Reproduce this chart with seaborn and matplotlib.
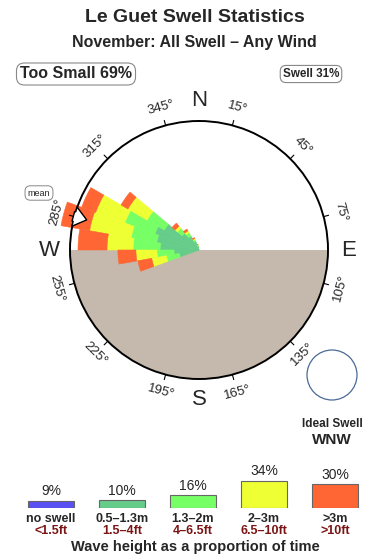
import numpy as np
import pandas as pd
import seaborn as sns
import matplotlib
matplotlib.use("Agg")
import matplotlib.pyplot as plt
from matplotlib.patches import Circle

sns.set_theme(style="white")
plt.rcParams['font.family'] = ['Liberation Sans', 'DejaVu Sans']

# ---------------- data ----------------
title = "Le Guet Swell Statistics"
subtitle = "November: All Swell \u2013 Any Wind"
too_small_pct = 69
swell_pct = 31
ideal_dir = "WNW"
mean_dir = 285

# swell direction bins (deg) and stacked band lengths (radial units, circle = 100)
directions = [255, 265, 275, 285, 295, 305, 315, 325, 335, 345]
band_05_13 = [15.5, 19.4, 30.2, 33.3, 36.4, 31.0, 17.1, 12.4, 7.0, 3.0]
band_13_2 = [10.1, 13.2, 20.9, 20.2, 24.8, 15.5, 4.7, 3.1, 1.6, 0.6]
band_2_3 = [11.6, 16.3, 20.2, 32.6, 24.0, 17.1, 2.3, 1.6, 0.8, 0.4]
band_3_up = [10.9, 14.0, 22.5, 22.5, 11.6, 6.2, 3.1, 1.6, 0.8, 0.3]

angle_labels = [15, 45, 75, 105, 135, 165, 195, 225, 255, 285, 315, 345]

legend_pct = [9, 10, 16, 34, 30]
legend_m = ["no swell", "0.5\u20131.3m", "1.3\u20132m", "2\u20133m", ">3m"]
legend_ft = ["<1.5ft", "1.5\u20134ft", "4\u20136.5ft", "6.5\u201310ft", ">10ft"]

# ---------------- styles ----------------
C_BLUE = "#5B50F2"
C_TEAL = "#66CC8A"
C_LGREEN = "#77FF66"
C_YELLOW = "#EEFF33"
C_ORANGE = "#FF6633"
LAND = "#C4B9AC"
DARKRED = "#7A1515"

W, H = 390, 560
fig = plt.figure(figsize=(W / 100, H / 100), dpi=100)


def px(x, y):
    return x / W, 1 - y / H


# titles
fig.text(*px(195, 18), title, ha="center", va="center", fontsize=14, fontweight="bold")
fig.text(*px(194, 43), subtitle, ha="center", va="center", fontsize=11.5, fontweight="bold")

box = dict(boxstyle="round,pad=0.22,rounding_size=0.5", fc="white", ec="#888888", lw=0.8)
fig.text(*px(76, 74), f"Too Small {too_small_pct}%", ha="center", va="center",
         fontsize=11.5, fontweight="bold", bbox=box)
fig.text(*px(311, 74), f"Swell {swell_pct}%", ha="center", va="center",
         fontsize=8.4, fontweight="bold", bbox=box)

# ---------------- rose ----------------
cx, cy, R = 199, 250, 129
ax = fig.add_axes([(cx - R) / W, 1 - (cy + R) / H, 2 * R / W, 2 * R / H], projection="polar")
ax.set_theta_zero_location("N")
ax.set_theta_direction(-1)
ax.set_ylim(0, 100)
ax.set_xticks([])
ax.set_yticks([])
ax.grid(False)
ax.set_facecolor("white")
ax.spines["polar"].set_linewidth(1.4)
ax.spines["polar"].set_color("black")
ax.spines["polar"].set_zorder(5)

th = np.linspace(np.pi / 2, 3 * np.pi / 2, 200)
ax.fill_between(th, 0, 100, color=LAND, lw=0, zorder=1)

rose = pd.DataFrame({"dir": directions, "b1": band_05_13, "b2": band_13_2,
                     "b3": band_2_3, "b4": band_3_up})
theta = np.deg2rad(rose["dir"].to_numpy())
bottom = np.zeros(len(rose))
for col, color in zip(["b1", "b2", "b3", "b4"], [C_TEAL, C_LGREEN, C_YELLOW, C_ORANGE]):
    vals = rose[col].to_numpy()
    ax.bar(theta, vals, width=np.deg2rad(10), bottom=bottom, color=color,
           edgecolor=color, lw=0.4, zorder=2, clip_on=False)
    bottom = bottom + vals

for b in angle_labels:
    t = np.deg2rad(b)
    rot = -b if (b < 90 or b > 270) else 180 - b
    ax.text(t, 114, f"{b}\u00b0", rotation=rot, rotation_mode="anchor",
            ha="center", va="center", fontsize=9.5, zorder=6)
    ax.plot([t, t], [100, 104], color="black", lw=0.8, clip_on=False, zorder=6)

for lab, b in zip("NESW", [0, 90, 180, 270]):
    ax.text(np.deg2rad(b), 116, lab, ha="center", va="center", fontsize=16, zorder=6)

# mean arrow
tm = np.deg2rad(mean_dir)
ax.annotate("", xy=(tm, 88), xytext=(tm, 103), xycoords="data", textcoords="data",
            arrowprops=dict(arrowstyle="simple,head_length=0.7,head_width=1.1,tail_width=0.55",
                            fc="white", ec="black", lw=1.0, mutation_scale=13),
            zorder=7, annotation_clip=False)
fig.text(*px(39, 193), "mean", ha="center", va="center", fontsize=6.5,
         bbox=dict(boxstyle="round,pad=0.3,rounding_size=0.6", fc="white", ec="#888888", lw=0.7))

# ideal swell
fig.add_artist(Circle((3.32, (H - 375) / 100), 0.25, transform=fig.dpi_scale_trans,
                      fc="white", ec="#4A6A96", lw=0.9))
fig.text(*px(332, 424), "Ideal Swell", ha="center", va="center", fontsize=8.5, fontweight="bold")
fig.text(*px(332, 440), ideal_dir, ha="center", va="center", fontsize=11, fontweight="bold")

# ---------------- legend (seaborn barplot) ----------------
lax = fig.add_axes([15.5 / W, 1 - 508 / H, 355 / W, 32 / H])
leg = pd.DataFrame({"band": legend_m, "pct": legend_pct})
sns.barplot(data=leg, x="band", y="pct", hue="band",
            palette=[C_BLUE, C_TEAL, C_LGREEN, C_YELLOW, C_ORANGE],
            saturation=1, width=0.65, edgecolor="#666666", linewidth=0.8,
            legend=False, ax=lax)
lax.set_xlim(-0.5, 4.5)
lax.set_ylim(0, 40)
lax.axis("off")
for i, (p, m, f) in enumerate(zip(legend_pct, legend_m, legend_ft)):
    lax.text(i, p + 3, f"{p}%", ha="center", va="bottom", fontsize=10)
    lax.text(i, -14, m, ha="center", va="center", fontsize=9, fontweight="bold")
    lax.text(i, -29, f, ha="center", va="center", fontsize=9, fontweight="bold", color=DARKRED)

fig.text(*px(195, 547), "Wave height as a proportion of time", ha="center", va="center",
         fontsize=10.5, fontweight="bold")

fig.savefig("out.png", dpi=100)
